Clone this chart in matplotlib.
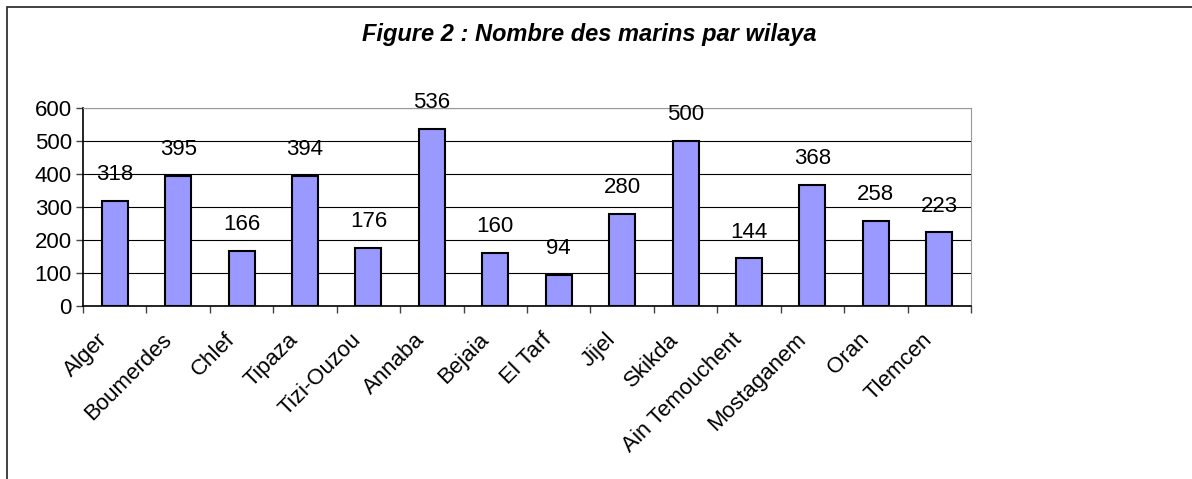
import matplotlib
matplotlib.use('Agg')
import matplotlib.pyplot as plt
from matplotlib.patches import Rectangle
from matplotlib.transforms import ScaledTranslation

wilayas = ['Alger', 'Boumerdes', 'Chlef', 'Tipaza', 'Tizi-Ouzou', 'Annaba', 'Bejaia',
           'El Tarf', 'Jijel', 'Skikda', 'Ain Temouchent', 'Mostaganem', 'Oran', 'Tlemcen']
marins = [318, 395, 166, 394, 176, 536, 160, 94, 280, 500, 144, 368, 258, 223]
y_ticks = [0, 100, 200, 300, 400, 500, 600]

plt.rcParams['font.family'] = ['Liberation Sans', 'DejaVu Sans']

W, H = 1192, 479
fig = plt.figure(figsize=(W / 100, H / 100), dpi=100)

# cadre autour du graphique (coupé à droite et en bas)
fig.patches.append(Rectangle((7 / W, -0.1), 1.2, 1 - 7 / H + 0.1, transform=fig.transFigure,
                             fill=False, edgecolor='#333333', linewidth=1.3))

ax = fig.add_axes([83 / W, 1 - 306 / H, (971 - 83) / W, (306 - 108) / H])

x = range(len(wilayas))
ax.bar(x, marins, width=0.41, color='#9999FF', edgecolor='black', linewidth=1.5, zorder=3)

for i, v in enumerate(marins):
    ax.annotate(str(v), (i, v), xytext=(0, 19), textcoords='offset points',
                ha='center', va='center', fontsize=16)

ax.set_xlim(-0.5, len(wilayas) - 0.5)
ax.set_ylim(0, 600)
ax.set_yticks(y_ticks)
ax.set_yticklabels([str(t) for t in y_ticks], fontsize=16)
ax.yaxis.grid(True, color='black', linewidth=0.8, zorder=0)

ax.set_xticks([i + 0.5 for i in range(-1, len(wilayas))], minor=False)
ax.set_xticklabels([])
ax.tick_params(axis='x', length=5, width=1, color='#444444', direction='out')
ax.tick_params(axis='y', length=5, width=1, color='#444444', direction='out', pad=3)
ax.set_xticks(list(x), minor=True)
ax.set_xticklabels(wilayas, minor=True, rotation=45, ha='right', va='center',
                   rotation_mode='anchor', fontsize=16)
ax.tick_params(axis='x', which='minor', length=0, pad=22)
shift = ScaledTranslation(-0.1, 0, fig.dpi_scale_trans)
for lab in ax.get_xticklabels(minor=True):
    lab.set_transform(lab.get_transform() + shift)

for s in ['top', 'right']:
    ax.spines[s].set_color('#999999')
for s in ['left', 'bottom']:
    ax.spines[s].set_color('black')
    ax.spines[s].set_linewidth(1.2)

fig.text(589 / W, 1 - 34 / H, 'Figure 2 : Nombre des marins par wilaya', ha='center', va='center',
         fontsize=17, fontweight='bold', fontstyle='italic')

fig.savefig('out.png', dpi=100)
